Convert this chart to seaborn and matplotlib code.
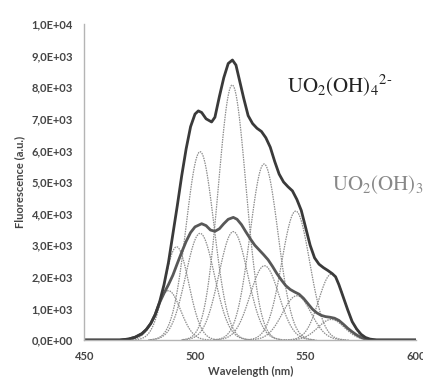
import numpy as np
import pandas as pd
import matplotlib
matplotlib.use("Agg")
import matplotlib.pyplot as plt
import seaborn as sns

# ---------------- data ----------------
# thick curve: UO2(OH)4 2- spectrum
wl_hi = [450, 466, 470, 473, 476, 478, 480, 482, 484, 486, 488, 490, 492, 494, 496,
         498, 500, 501.5, 503, 505, 507.5, 509, 511, 513, 515, 516.9, 518.5, 520,
         522, 524, 526, 528, 530, 532, 534, 536, 538, 540, 542, 544, 546, 548, 550,
         552, 554, 556, 558, 560, 562, 563.5, 565, 567, 569, 571, 573, 575, 577,
         579, 582, 600]
fl_hi = [0, 0, 30, 90, 200, 330, 520, 800, 1200, 1750, 2450, 3350, 4250, 5200, 6050,
         6750, 7150, 7250, 7200, 7000, 6900, 7050, 7700, 8300, 8750, 8860, 8700, 8250,
         7650, 7100, 6850, 6700, 6600, 6400, 6100, 5650, 5250, 5000, 4850, 4720, 4450,
         4100, 3550, 3000, 2600, 2400, 2290, 2200, 2100, 2000, 1750, 1350, 950, 580,
         350, 180, 80, 30, 0, 0]

# thick curve: UO2(OH)3- spectrum
wl_lo = [450, 466, 470, 473, 476, 478, 480, 482, 484, 486, 488, 490, 492, 494, 496,
         498, 500, 503, 505, 507, 509, 511, 513, 515, 517.3, 519, 521, 523, 525, 527,
         529, 531, 533, 535, 537, 539, 541, 543, 545, 547, 549, 551, 553, 555, 557,
         559, 561, 563, 565, 567, 569, 571, 573, 575, 577, 579, 600]
fl_lo = [0, 0, 30, 90, 200, 330, 520, 800, 1180, 1480, 1750, 2050, 2420, 2780, 3120,
         3400, 3580, 3680, 3620, 3480, 3440, 3520, 3680, 3820, 3880, 3820, 3650, 3420,
         3200, 3000, 2850, 2700, 2540, 2330, 2100, 1900, 1720, 1600, 1520, 1450, 1320,
         1150, 980, 860, 780, 740, 720, 690, 620, 500, 370, 260, 160, 80, 30, 0, 0]

# fitted gaussian components (dotted): centre (nm), height, sigma (nm)
comp_hi_center = [491.7, 502.3, 516.8, 531.2, 545.5, 561.7]
comp_hi_height = [2950, 5960, 8070, 5570, 4080, 2090]
comp_hi_sigma = [5.5, 6.3, 6.2, 6.3, 6.3, 5.8]

comp_lo_center = [488.0, 502.3, 517.3, 531.4, 546.0, 561.5]
comp_lo_height = [1560, 3375, 3430, 2350, 1400, 650]
comp_lo_sigma = [5.5, 6.5, 6.5, 6.5, 6.5, 6.0]

x_ticks = [450, 500, 550, 600]
y_ticks = [0, 1000, 2000, 3000, 4000, 5000, 6000, 7000, 8000, 9000, 10000]
y_tick_labels = ["0,0E+00", "1,0E+03", "2,0E+03", "3,0E+03", "4,0E+03", "5,0E+03",
                 "6,0E+03", "7,0E+03", "8,0E+03", "9,0E+03", "1,0E+04"]

# ---------------- figure ----------------
sns.set_style("white")
plt.rcParams['font.family'] = ['Lato', 'DejaVu Sans']
plt.rcParams['mathtext.fontset'] = 'stix'

fig = plt.figure(figsize=(4.23, 3.78), dpi=100)
ax = fig.add_axes([0.1993, 0.1005, 0.7851, 0.836])

# dotted gaussian components
rows = []
k = 0
for centers, heights, sigmas in ((comp_hi_center, comp_hi_height, comp_hi_sigma),
                                 (comp_lo_center, comp_lo_height, comp_lo_sigma)):
    for c, h, s in zip(centers, heights, sigmas):
        xs = np.linspace(c - 3.6 * s, c + 3.6 * s, 120)
        ys = h * np.exp(-(xs - c) ** 2 / (2 * s ** 2))
        rows.append(pd.DataFrame({"wl": xs, "fl": ys, "comp": k}))
        k += 1
comp_df = pd.concat(rows, ignore_index=True)
for cid, g in comp_df.groupby("comp"):
    sns.lineplot(data=g, x="wl", y="fl", ax=ax, color="#8c8c8c", lw=0.9,
                 linestyle=(0, (1.2, 0.8)), estimator=None, sort=False)

df_lo = pd.DataFrame({"wl": wl_lo, "fl": fl_lo})
df_hi = pd.DataFrame({"wl": wl_hi, "fl": fl_hi})
sns.lineplot(data=df_lo, x="wl", y="fl", ax=ax, color="#585858", lw=2.0,
             estimator=None, sort=False)
sns.lineplot(data=df_hi, x="wl", y="fl", ax=ax, color="#3a3a3a", lw=2.0,
             estimator=None, sort=False)

ax.set_xlim(450, 600)
ax.set_ylim(0, 10000)
ax.set_xticks(x_ticks)
ax.set_xticklabels([str(v) for v in x_ticks])
ax.set_yticks(y_ticks)
ax.set_yticklabels(y_tick_labels)

for side in ("top", "right"):
    ax.spines[side].set_visible(False)
for side in ("left", "bottom"):
    ax.spines[side].set_color("#b4b4b4")
    ax.spines[side].set_linewidth(1.0)
ax.tick_params(axis="both", direction="out", length=4, width=0.8, color="#b4b4b4",
               labelcolor="#454545", labelsize=8, pad=4)
for lbl in ax.get_xticklabels() + ax.get_yticklabels():
    lbl.set_fontweight("bold")

ax.set_xlabel("Wavelength (nm)", fontsize=8, fontweight="bold", color="#454545",
              labelpad=3)
ax.set_ylabel("Fluorescence (a.u.)", fontsize=8, fontweight="bold", color="#454545",
              labelpad=5)

fig.text(0.678, 0.757, r"$\mathrm{UO_2(OH)_4{}^{2\text{-}}}$", fontsize=15, color="#222222",
         ha="left", va="baseline")
fig.text(0.784, 0.497, r"$\mathrm{UO_2(OH)_3{}^{-}}$", fontsize=15, color="#888888",
         ha="left", va="baseline")

fig.savefig("out.png", dpi=100, facecolor="white")
